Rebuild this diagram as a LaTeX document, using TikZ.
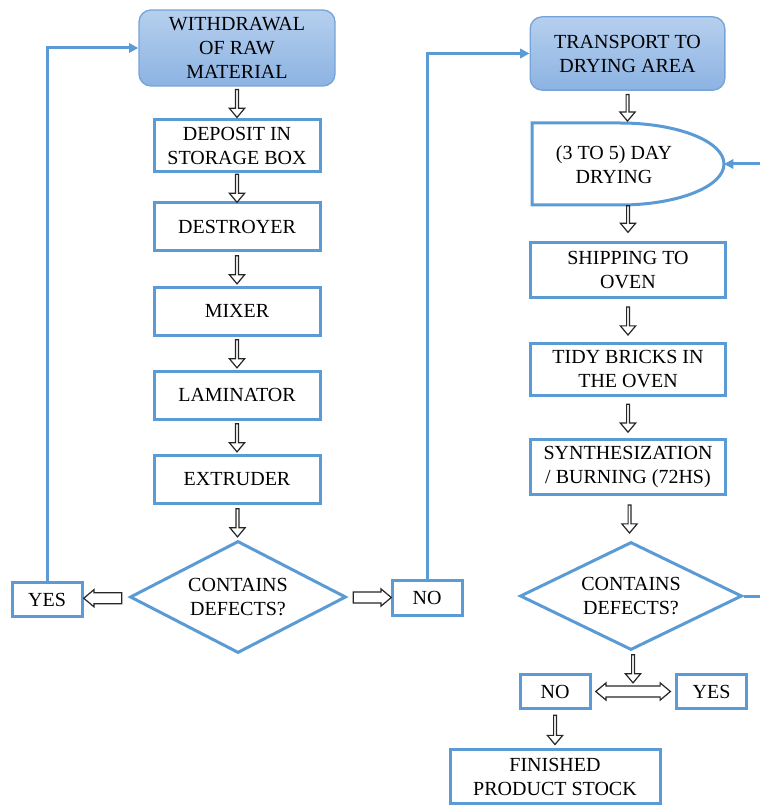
\documentclass[tikz,border=0pt]{standalone}
\usepackage{fontspec}
\setmainfont{Liberation Serif}
\usetikzlibrary{shapes.geometric,shapes.arrows,arrows.meta}
\definecolor{bl}{RGB}{91,155,213}
\definecolor{gtop}{RGB}{182,207,238}
\definecolor{gbot}{RGB}{140,179,226}
\definecolor{gline}{RGB}{118,164,216}
\begin{document}
\begin{tikzpicture}[x=0.75pt,y=-0.75pt,
  every node/.style={font=\fontsize{15}{18}\selectfont, align=center, inner sep=0pt},
  box/.style={draw=bl, line width=2.25pt, fill=white},
  gbox/.style={draw=gline, line width=1pt, rounded corners=9pt, top color=gtop, bottom color=gbot},
  dia/.style={diamond, draw=bl, line width=2.25pt, shape aspect=2, fill=white},
  hol/.style={draw=black!85, fill=white, line width=0.9pt, inner xsep=0pt, inner ysep=2.6pt, minimum width=11.5pt},
  holh/.style={draw=black!85, fill=white, line width=0.9pt, inner xsep=0pt, inner ysep=3pt, minimum width=13pt},
  downarr/.style={hol, single arrow, single arrow head extend=2pt, single arrow tip angle=80, shape border rotate=270, minimum height=#1},
  leftarr/.style={holh, single arrow, single arrow head extend=2pt, single arrow tip angle=80, shape border rotate=180, minimum height=#1},
  rightarr/.style={holh, single arrow, single arrow head extend=2pt, single arrow tip angle=80, minimum height=#1},
  bothsarr/.style={holh, double arrow, double arrow head extend=2pt, double arrow tip angle=80, minimum height=#1},
  conn/.style={draw=bl, line width=2.25pt, -{Triangle[length=7pt,width=7pt]}},
  bline/.style={draw=bl, line width=2.25pt}
]
\useasboundingbox (0,0) rectangle (760,805);

% left column
\node[gbox, minimum width=147pt, minimum height=57pt] (wd) at (237,48) {WITHDRAWAL\\OF RAW\\MATERIAL};
\node[box, minimum width=124.5pt, minimum height=39pt] (dep) at (237,146) {DEPOSIT IN\\STORAGE BOX};
\node[box, minimum width=124.5pt, minimum height=36pt] (des) at (237,227) {DESTROYER};
\node[box, minimum width=124.5pt, minimum height=36pt] (mix) at (237,311) {MIXER};
\node[box, minimum width=124.5pt, minimum height=36pt] (lam) at (237,395) {LAMINATOR};
\node[box, minimum width=124.5pt, minimum height=36pt] (ext) at (237,479) {EXTRUDER};
\node[dia, minimum width=162pt, minimum height=84pt] (d1) at (238,597) {CONTAINS\\DEFECTS?};
\node[box, minimum width=52.5pt, minimum height=26pt] (yes1) at (47,599.5) {YES};
\node[box, minimum width=52.5pt, minimum height=26pt] (no1) at (427,598) {NO};

\path (wd.south) -- node[downarr=21pt]{} (dep.north);
\path (dep.south) -- node[downarr=21pt]{} (des.north);
\path (des.south) -- node[downarr=21pt]{} (mix.north);
\path (mix.south) -- node[downarr=21pt]{} (lam.north);
\path (lam.south) -- node[downarr=21pt]{} (ext.north);
\path (ext.south) -- node[downarr=21pt]{} (d1.north);
\path (d1.west) -- node[leftarr=28.5pt]{} (yes1.east);
\path (d1.east) -- node[rightarr=28.5pt]{} (no1.west);

\draw[conn] (yes1.north) |- (wd.west);

% right column
\node[gbox, minimum width=146pt, minimum height=55pt] (tr) at (627.5,53.5) {TRANSPORT TO\\DRYING AREA};
\coordinate (dtl) at (532,123);
\coordinate (dtip) at (724,164);
\draw[bline, fill=white] (dtl) -- (620,123) arc[start angle=-90, end angle=90, x radius=104, y radius=41] -- (532,205) -- cycle;
\node (dry) at (614,165) {(3 TO 5) DAY\\DRYING};
\node[box, minimum width=146pt, minimum height=41pt] (ship) at (628,270) {SHIPPING TO\\OVEN};
\node[box, minimum width=146pt, minimum height=39pt] (tidy) at (628,369) {TIDY BRICKS IN\\THE OVEN};
\node[box, minimum width=146pt, minimum height=41pt] (syn) at (628,467) {SYNTHESIZATION\\/ BURNING (72HS)};
\node[dia, minimum width=166.5pt, minimum height=81pt] (d2) at (631,596) {CONTAINS\\DEFECTS?};
\node[box, minimum width=52.5pt, minimum height=25pt] (no2) at (555,691.5) {NO};
\node[box, minimum width=53pt, minimum height=25pt] (yes2) at (711.5,691.5) {YES};
\node[box, minimum width=157.5pt, minimum height=40pt] (fin) at (555,776.5) {FINISHED\\PRODUCT STOCK};

\path (tr.south) -- node[downarr=20pt]{} (dtl -| tr.south);
\path (ship.north) ++(0,-46) coordinate (dbot);
\path (dbot) -- node[downarr=20pt]{} (ship.north);
\path (ship.south) -- node[downarr=21pt]{} (tidy.north);
\path (tidy.south) -- node[downarr=21pt]{} (syn.north);
\path (syn.south) -- node[downarr=21pt]{} (d2.north);
\node[downarr=21pt] (a9) at (633,668) {};
\path (no2.east) -- node[bothsarr=56pt]{} (yes2.west);
\path (no2.south) -- node[downarr=22pt]{} (fin.north);

\draw[conn] (no1.north) |- (tr.west);
\coordinate (rin) at (760,164);
\draw[conn] (rin) -- (dtip);
\coordinate (rout) at (760,596);
\draw[bline] (d2.east) -- (rout);
\end{tikzpicture}
\end{document}
